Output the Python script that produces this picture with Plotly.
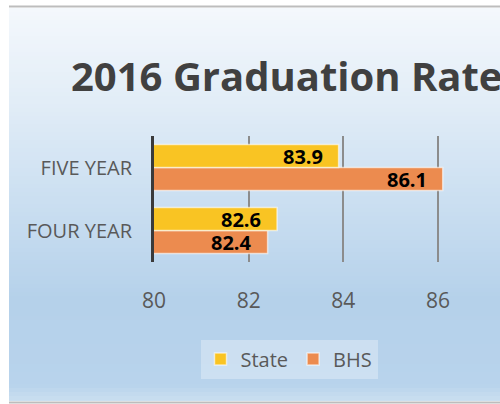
import plotly.graph_objects as go

# ---- data ----
categories = ["FIVE YEAR", "FOUR YEAR"]
state_values = [83.9, 82.6]
bhs_values = [86.1, 82.4]
series_names = ["State", "BHS"]
x_tick_values = [80, 82, 84, 86]
title_text = "2016 Graduation Rates"

# ---- styling ----
W, H = 500, 404
FONT = "Open Sans"
STATE_COLOR = "#f9c423"
BHS_COLOR = "#ec8b4f"
PLOT_L, PLOT_TOP, PLOT_BOTTOM = 154, 136, 262
PX_PER_UNIT = 47.33
x_min = 80
x_max = x_min + (W - PLOT_L) / PX_PER_UNIT

fig = go.Figure()
fig.add_trace(go.Bar(
    name=series_names[1], y=categories, x=bhs_values, orientation="h",
    marker=dict(color=BHS_COLOR, line=dict(color="rgba(255,255,255,0.6)", width=1.5)),
    hoverinfo="skip", legendrank=2,
))
fig.add_trace(go.Bar(
    name=series_names[0], y=categories, x=state_values, orientation="h",
    marker=dict(color=STATE_COLOR, line=dict(color="rgba(255,255,255,0.6)", width=1.5)),
    hoverinfo="skip", legendrank=1,
))

# value labels (inside bar end)
for vals, ysh in ((state_values, 11.5), (bhs_values, -11.5)):
    for c, v in zip(categories, vals):
        fig.add_annotation(x=v, y=c, text=f"{v:.1f}", showarrow=False,
                           xanchor="right", yanchor="middle", xshift=-14, yshift=ysh,
                           font=dict(family=FONT, size=20, color="#000000", weight="bold"))

# gradient background as strips
stops = [(8, (244, 248, 252)), (100, (226, 237, 247)), (200, (203, 223, 241)),
         (300, (181, 209, 234)), (385, (184, 211, 236)), (401, (203, 223, 240))]
def col_at(yp):
    for (y0, c0), (y1, c1) in zip(stops[:-1], stops[1:]):
        if y0 <= yp <= y1:
            t = (yp - y0) / (y1 - y0)
            return "rgb(%d,%d,%d)" % tuple(round(a + (b - a) * t) for a, b in zip(c0, c1))
    return "rgb(%d,%d,%d)" % stops[-1][1]

shapes = []
step = 4
yp = 8
while yp < 401:
    y2 = min(yp + step, 401)
    shapes.append(dict(type="rect", xref="paper", yref="paper", layer="below",
                       x0=9 / W, x1=1, y0=1 - y2 / H, y1=1 - yp / H,
                       fillcolor=col_at((yp + y2) / 2), line=dict(width=0)))
    yp = y2
# frame lines
shapes.append(dict(type="line", xref="paper", yref="paper", layer="below",
                   x0=9 / W, x1=1, y0=1 - 6.5 / H, y1=1 - 6.5 / H,
                   line=dict(color="#bdbdbd", width=2)))
shapes.append(dict(type="line", xref="paper", yref="paper", layer="below",
                   x0=9 / W, x1=1, y0=1 - 402.5 / H, y1=1 - 402.5 / H,
                   line=dict(color="#bdbdbd", width=2)))

fig.add_annotation(xref="paper", yref="paper", x=69 / W, y=1 - 76 / H,
                   xanchor="left", yanchor="middle", showarrow=False,
                   text=title_text,
                   font=dict(family=FONT, size=40, color="#404040", weight="bold"))

fig.update_layout(
    width=W, height=H,
    margin=dict(l=0, r=0, t=0, b=0),
    paper_bgcolor="white", plot_bgcolor="rgba(0,0,0,0)",
    barmode="group", bargap=0.27, bargroupgap=0.0,
    shapes=shapes,
    showlegend=True,
    legend=dict(orientation="h", x=289 / W, y=1 - 359 / H, xanchor="center", yanchor="middle",
                bgcolor="rgba(255,255,255,0.3)", font=dict(family=FONT, size=20, color="#595959"),
                itemwidth=30, traceorder="normal"),
    xaxis=dict(domain=[PLOT_L / W, 1], range=[x_min, x_max], tickvals=x_tick_values,
               showgrid=True, gridcolor="#8c8c8c", gridwidth=1.5, zeroline=False,
               showline=False, ticks="", ticklabelstandoff=24, automargin=False,
               tickfont=dict(family=FONT, size=21, color="#595959"), fixedrange=True),
    yaxis=dict(domain=[1 - PLOT_BOTTOM / H, 1 - PLOT_TOP / H],
               categoryorder="array", categoryarray=categories[::-1],
               showline=True, linecolor="#3a3a3a", linewidth=3, showgrid=False,
               ticks="", ticklabelstandoff=15, automargin=False,
               tickfont=dict(family=FONT, size=20, color="#595959"), fixedrange=True),
)

fig.write_html("out.html", config={"displayModeBar": False},
               post_script="document.body.style.margin='0';document.body.style.overflow='hidden';")
